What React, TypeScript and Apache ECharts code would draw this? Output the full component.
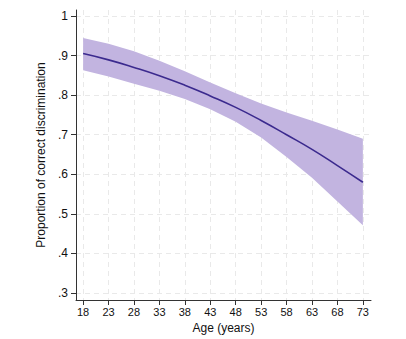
import React, { useEffect, useRef } from "react";
import * as echarts from "echarts";

const ages = [18, 23, 28, 33, 38, 43, 48, 53, 58, 63, 68, 73];
const predicted = [0.905, 0.889, 0.87, 0.849, 0.825, 0.798, 0.769, 0.736, 0.7, 0.663, 0.622, 0.58];
const upperCI = [0.944, 0.93, 0.911, 0.887, 0.86, 0.832, 0.805, 0.779, 0.756, 0.735, 0.713, 0.69];
const lowerCI = [0.863, 0.847, 0.829, 0.811, 0.79, 0.764, 0.733, 0.693, 0.644, 0.591, 0.531, 0.471];
const yTicks = [0.3, 0.4, 0.5, 0.6, 0.7, 0.8, 0.9, 1];

const FONT = "'Liberation Sans', Arial, Helvetica, sans-serif";

export default function App() {
  const ref = useRef<HTMLDivElement>(null);
  useEffect(() => {
    if (!ref.current) return;
    const chart = echarts.init(ref.current, undefined, { renderer: "svg" });
    const bandData = ages.map((a, i) => [a, lowerCI[i], upperCI[i]]);
    const lineData = ages.map((a, i) => [a, predicted[i]]);
    const axisColor = "#333";
    const gridLine = { show: true, lineStyle: { color: "#e9e9e9", type: [5, 4] as any, width: 1 } };
    chart.setOption({
      animation: false,
      backgroundColor: "#fff",
      grid: { left: 76, right: 35, top: 10, bottom: 36, containLabel: false },
      xAxis: {
        type: "value",
        min: 16.6,
        max: 74.6,
        name: "Age (years)",
        nameLocation: "middle",
        nameGap: 22,
        nameTextStyle: { fontFamily: FONT, fontSize: 12, color: "#111" },
        axisLine: { show: true, lineStyle: { color: axisColor, width: 1 } },
        axisTick: { show: true, length: 5, lineStyle: { color: axisColor }, customValues: ages },
        axisLabel: { fontFamily: FONT, fontSize: 11, color: "#111", margin: 6, customValues: ages },
        splitLine: gridLine,
      },
      yAxis: {
        type: "value",
        min: 0.2825,
        max: 1.015,
        name: "Proportion of correct discrimination",
        nameLocation: "middle",
        nameGap: 25,
        nameTextStyle: { fontFamily: FONT, fontSize: 12, color: "#111" },
        axisLine: { show: true, lineStyle: { color: axisColor, width: 1 } },
        axisTick: { show: true, length: 5, lineStyle: { color: axisColor }, customValues: yTicks },
        axisLabel: {
          fontFamily: FONT,
          fontSize: 12,
          color: "#111",
          margin: 8,
          customValues: yTicks,
          formatter: (v: number) => (Math.abs(v - 1) < 1e-9 ? "1" : v.toFixed(1).replace(/^0/, "")),
        },
        splitLine: gridLine,
      },
      series: [
        {
          type: "custom",
          data: [0],
          silent: true,
          z: 1,
          renderItem: (params: any, api: any) => {
            const upper = bandData.map((d) => api.coord([d[0], d[2]]));
            const lower = bandData.map((d) => api.coord([d[0], d[1]])).reverse();
            return {
              type: "polygon",
              shape: { points: upper.concat(lower) },
              style: { fill: "#c2b4e0", stroke: "none" },
            };
          },
        },
        {
          type: "line",
          data: lineData,
          symbol: "none",
          smooth: true,
          z: 3,
          lineStyle: { color: "#3b2a8e", width: 1.6 },
        },
      ],
    });
    return () => chart.dispose();
  }, []);
  return <div ref={ref} style={{ width: 406, height: 339, position: "absolute", left: 0, top: 0 }} />;
}
